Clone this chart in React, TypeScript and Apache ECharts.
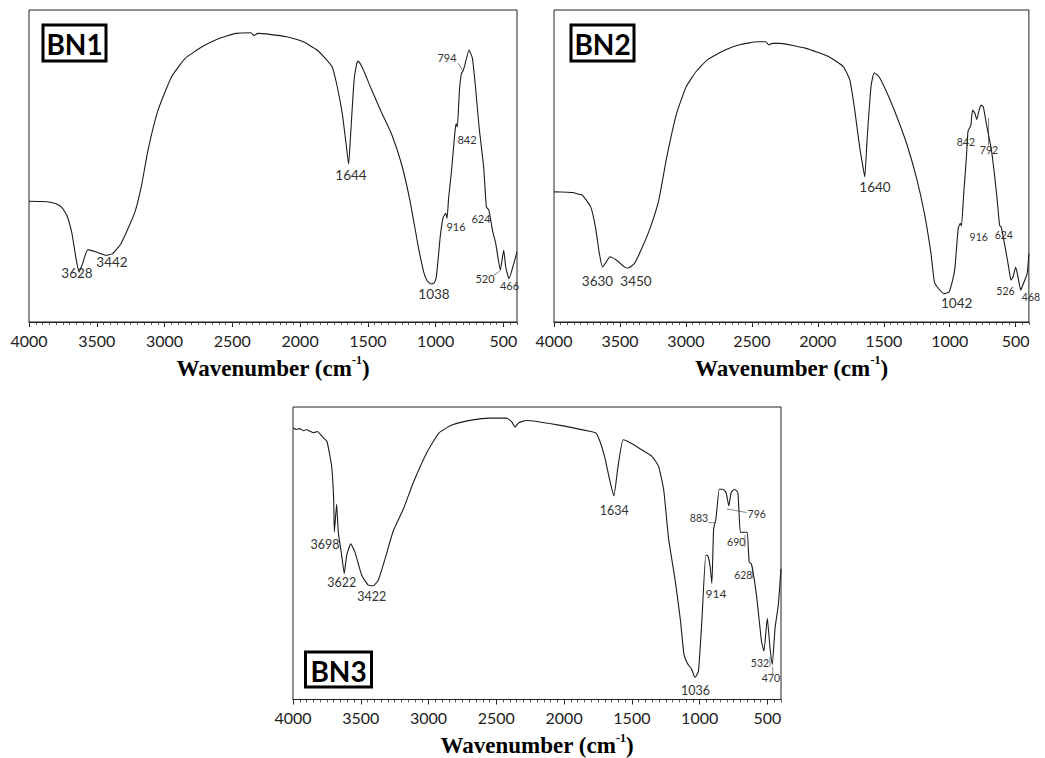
import React, { useEffect, useRef } from 'react';
import * as echarts from 'echarts';

// ---- Data (wavenumber cm-1, relative transmittance) ----
const bn1Wn = [4000,3900,3845,3800,3758,3721,3683,3651,3631,3609,3566,3509,3434,3384,3322,3222,3172,3122,3048,2948,2848,2724,2599,2474,2362,2340,2312,2225,2100,1976,1876,1814,1764,1726,1689,1664,1642,1627,1602,1582,1572,1539,1477,1402,1327,1253,1190,1128,1091,1070,1050,1030,1010,995,980,966,945,926,916,904,884,859,849,840,825,810,798,784,754,729,704,680,646,626,607,579,557,523,498,483,459,424,400];
const bn1T = [38.7,38.6,38.4,37.9,36.7,34.2,28.3,19.8,16.0,18.2,23.2,22.5,21.4,21.9,25.1,34.8,43.3,55.1,67.9,78.6,84.5,88.2,90.9,92.5,92.7,91.8,92.5,92.2,91.4,89.8,87.2,84.5,81.8,75.4,66.8,58.3,50.6,60.4,77.5,82.9,83.6,81.3,74.9,67.4,60.4,50.8,39.0,24.1,16.5,13.8,12.6,12.2,12.6,14.5,21,27.5,33.5,34.8,33.2,40,48,60.4,63.6,62.5,74,79.7,80.5,82.5,87.2,84.5,74.3,62.6,49.7,36.9,35.8,29,25.2,16.6,23.0,17.6,13.9,18.7,22.5];

const bn2Wn = [4000,3900,3857,3820,3784,3722,3686,3656,3632,3612,3575,3526,3464,3440,3391,3329,3268,3206,3145,3071,2998,2924,2838,2703,2580,2457,2396,2371,2347,2285,2089,1916,1806,1757,1720,1683,1658,1644,1627,1597,1573,1536,1474,1401,1327,1254,1192,1142,1116,1080,1042,1005,975,960,936,920,911,894,875,862,852,840,827,810,795,780,763,746,720,684,660,640,622,610,580,555,536,520,500,482,462,440,413,400];
const bn2T = [41.7,41.6,41.5,41.0,40.6,36.9,30.5,21.9,17.6,18.7,20.9,19.8,17.6,17.3,18.7,24.1,30.5,39.0,52.9,66.8,75.4,80.2,84.0,87.2,89.0,89.8,89.8,88.8,89.3,89.3,87.7,85.0,81.8,77.5,67.9,56.1,49.7,46.5,58.3,75.4,79.9,78.6,73.3,65.8,57.2,46.5,34.8,21.9,12.8,10.5,9.1,9.6,14,17.6,30,31.6,30.8,41.2,52,61,62,63,67.9,67,64.9,67.5,69.5,69,63,55.1,47,39,31,30.4,24,18,13.4,14.5,17.6,14.4,10.2,12.5,15.5,21.9];

const bn3Wn = [3998,3975,3950,3925,3900,3870,3850,3820,3790,3770,3749,3715,3700,3695,3678,3666,3641,3622,3604,3574,3543,3493,3445,3408,3371,3321,3260,3186,3113,3014,2924,2824,2674,2550,2425,2387,2363,2338,2313,2275,2051,1802,1765,1740,1702,1665,1633,1602,1565,1528,1428,1353,1304,1266,1229,1179,1141,1116,1092,1059,1034,1009,984,955,942,924,910,897,880,855,830,805,785,768,743,718,700,680,650,635,618,581,544,526,501,481,464,444,420,400];
const bn3T = [92.8,92.3,92.6,91.9,92.2,91.6,91.2,91.6,90.2,89.2,88.2,79.8,68.5,57.3,66.8,57.3,49.3,43.1,49.3,53.2,50.4,42.5,39.1,38.9,40.8,48.1,57.7,65.1,74.1,84.3,91.1,93.9,95.6,96.2,96.2,95.0,93.1,94.5,95.0,95.4,93.9,91.6,91.1,88.8,83.2,75.3,69.6,79.8,88.8,88.2,85.4,83.2,79.8,71.9,54.9,40.2,26.7,15.4,12.5,10.3,7.5,9.7,26.7,49.3,49.3,45.9,39.7,58.3,61.7,71.9,71.9,70.7,66.2,70.7,71.9,70.7,57.2,57.2,57.2,47.0,46.4,35.7,19.9,16.5,27.8,17.6,12.0,24.4,32.3,44.7];

const sampleNames = ['BN1', 'BN2', 'BN3'];
const majorTicks = [4000, 3500, 3000, 2500, 2000, 1500, 1000, 500];

// peak annotation texts per panel
const bn1Peaks = ['3628', '3442', '1644', '1038', '794', '842', '916', '624', '520', '466'];
const bn2Peaks = ['3630', '3450', '1640', '1042', '842', '792', '916', '624', '526', '468'];
const bn3Peaks = ['3698', '3622', '3422', '1634', '1036', '914', '883', '796', '690', '628', '532', '470'];

// ---- Layout (pixel positions / sizes) ----
const gridsLayout = [
  { left: 29, top: 10, width: 488, height: 312 },
  { left: 554, top: 10, width: 488, height: 312 },
  { left: 293, top: 407, width: 488, height: 295 },
];
const bn1PeakPos = [[77, 273, 13.5], [112, 262, 13.5], [351, 175, 13.5], [434, 294, 13.5], [447, 57, 11], [467, 139, 11], [456, 226, 11], [481, 218.5, 11], [485, 278, 11], [509.5, 285, 11]];
const bn2PeakPos = [[597.5, 280.5, 13.5], [636, 280.5, 13.5], [875, 187, 13.5], [956.7, 303, 13.5], [966, 141.5, 10.5], [989, 150, 10.5], [978.7, 236.7, 10.5], [1003.8, 234.5, 10.5], [1005.5, 291, 10.5], [1031, 296.7, 10.5]];
const bn3PeakPos = [[325, 544, 12.5], [341.7, 582.5, 12.5], [371.7, 596.7, 12.5], [614.3, 510.5, 12.5], [695.5, 690, 12.5], [716, 593.3, 12], [699, 517.5, 10.5], [756.7, 514, 10.5], [736.2, 542.3, 10.5], [743.3, 574.7, 10.5], [760, 662.8, 10.5], [771, 678.3, 10.5]];
const leaders = [
  [458, 63, 463, 71], [494, 275, 500, 271],
  [988.5, 118, 988.5, 145],
  [708.5, 522.7, 715, 522.7], [727, 509, 746.5, 512.5], [745, 535, 745, 547], [752.7, 566.7, 752.7, 578.3], [770, 656.7, 770, 666.7], [772.7, 666.7, 772.7, 675],
];
const nameBoxes = [[43, 25, 63, 36], [571, 25, 63, 36], [305.5, 652, 66, 35]];

export default function App() {
  const ref = useRef<HTMLDivElement>(null);
  useEffect(() => {
    if (!ref.current) return;
    const chart = echarts.init(ref.current, undefined, { renderer: 'svg' });

    const wnSets = [bn1Wn, bn2Wn, bn3Wn];
    const tSets = [bn1T, bn2T, bn3T];

    const grid = gridsLayout.map((g) => ({
      ...g, show: true, borderColor: '#222', borderWidth: 1, backgroundColor: 'transparent', containLabel: false,
    }));
    const xAxis: any[] = [];
    const yAxis: any[] = [];
    const series: any[] = [];
    gridsLayout.forEach((_, i) => {
      xAxis.push({
        type: 'value', gridIndex: i, min: 400, max: 4000, inverse: true, position: 'bottom',
        axisLine: { show: true, onZero: false, lineStyle: { color: '#222', width: 1 } },
        axisTick: { show: true, customValues: majorTicks, length: 5, inside: false, lineStyle: { color: '#222' } },
        axisLabel: {
          show: true, customValues: majorTicks, fontFamily: 'Lato', fontSize: 16, color: '#222', margin: 10,
          formatter: (v: number) => String(v),
        },
        splitLine: { show: false },
        name: '{t|Wavenumber (cm}{s|-1}{t|)}',
        nameLocation: 'middle', nameGap: 32,
        nameTextStyle: {
          rich: {
            t: { fontFamily: 'Liberation Serif', fontWeight: 'bold', fontSize: 23, color: '#000', lineHeight: 28 },
            s: { fontFamily: 'Liberation Serif', fontWeight: 'bold', fontSize: 12, color: '#000', lineHeight: 14, verticalAlign: 'top' },
          },
        },
      });
      xAxis.push({
        type: 'value', gridIndex: i, min: 400, max: 4000, interval: 50, inverse: true, position: 'bottom',
        axisLine: { show: false, onZero: false },
        axisTick: { show: true, length: 3, inside: false, lineStyle: { color: '#333', width: 0.8 } },
        axisLabel: { show: false },
        splitLine: { show: false },
      });
      yAxis.push({ type: 'value', gridIndex: i, min: 0, max: 100, show: false, splitLine: { show: false } });
      const wn = wnSets[i];
      const t = tSets[i];
      series.push({
        type: 'line', name: sampleNames[i], xAxisIndex: i * 2, yAxisIndex: i,
        data: wn.map((w, k) => [w, t[k]]),
        showSymbol: false, symbol: 'none', smooth: 0.15,
        lineStyle: { color: '#1c1c1c', width: 1.1 },
      });
    });

    const graphic: any[] = [];
    const addPeaks = (labels: string[], pos: number[][]) => {
      labels.forEach((txt, k) => {
        const [x, y, fs] = pos[k];
        graphic.push({
          type: 'text', x, y, silent: true,
          style: { text: txt, fontFamily: 'Lato', fontSize: fs, fill: '#333', align: 'center', verticalAlign: 'middle' },
        });
      });
    };
    addPeaks(bn1Peaks, bn1PeakPos);
    addPeaks(bn2Peaks, bn2PeakPos);
    addPeaks(bn3Peaks, bn3PeakPos);
    leaders.forEach(([x1, y1, x2, y2]) => {
      graphic.push({ type: 'line', silent: true, shape: { x1, y1, x2, y2 }, style: { stroke: '#666', lineWidth: 0.8 } });
    });
    nameBoxes.forEach(([x, y, w, h], i) => {
      graphic.push({ type: 'rect', silent: true, shape: { x, y, width: w, height: h }, style: { fill: '#fff', stroke: '#000', lineWidth: 3 } });
      graphic.push({
        type: 'text', silent: true, x: x + w / 2, y: y + h / 2 + 1,
        style: { text: sampleNames[i], fontFamily: 'Lato', fontWeight: 'bold', fontSize: 28, fill: '#000', align: 'center', verticalAlign: 'middle' },
      });
    });

    chart.setOption({
      animation: false,
      backgroundColor: '#fff',
      grid, xAxis, yAxis, series, graphic,
    });
    return () => chart.dispose();
  }, []);
  return <div ref={ref} style={{ position: 'absolute', left: 0, top: 0, width: '1045px', height: '758px' }} />;
}
